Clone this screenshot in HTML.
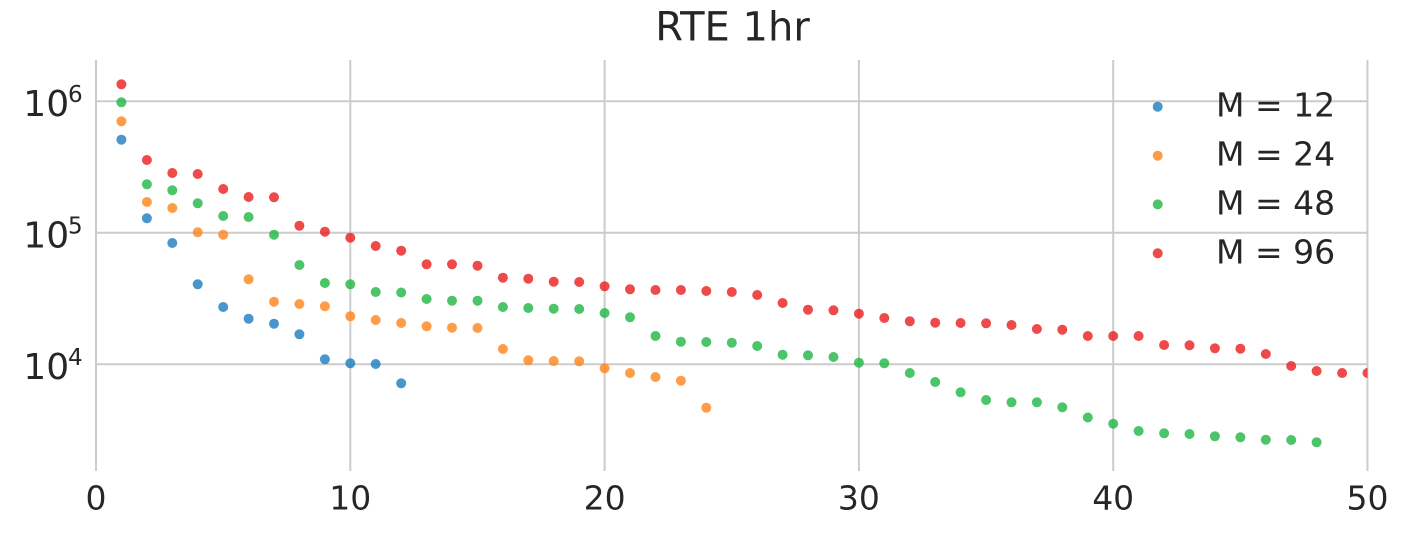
<!DOCTYPE html>
<html><head><meta charset="utf-8"><style>
html,body{margin:0;padding:0;background:#fff;}
svg{display:block;}
text{font-family:"DejaVu Sans","Liberation Sans",sans-serif;fill:#262626;}
</style></head><body>
<svg width="1401" height="541" viewBox="0 0 1401 541" xmlns="http://www.w3.org/2000/svg">
<defs><clipPath id="pc"><rect x="96" y="60" width="1271.5" height="411"/></clipPath></defs>
<text x="732.5" y="40.5" font-size="40" text-anchor="middle">RTE 1hr</text>
<g stroke="#cccccc" stroke-width="2">
<line x1="96" y1="60" x2="96" y2="471"/>
<line x1="350.3" y1="60" x2="350.3" y2="471"/>
<line x1="604.6" y1="60" x2="604.6" y2="471"/>
<line x1="858.9" y1="60" x2="858.9" y2="471"/>
<line x1="1113.2" y1="60" x2="1113.2" y2="471"/>
<line x1="1367.5" y1="60" x2="1367.5" y2="471"/>
<line x1="96" y1="101.3" x2="1367.5" y2="101.3"/>
<line x1="96" y1="232.8" x2="1367.5" y2="232.8"/>
<line x1="96" y1="364.3" x2="1367.5" y2="364.3"/>
</g>
<g font-size="33" text-anchor="middle">
<text x="96" y="509.5">0</text>
<text x="350.3" y="509.5">10</text>
<text x="604.6" y="509.5">20</text>
<text x="858.9" y="509.5">30</text>
<text x="1113.2" y="509.5">40</text>
<text x="1367.5" y="509.5">50</text>
</g>
<g>
<text x="23.3" y="115.8" font-size="36">10</text><text x="68" y="101.8" font-size="23">6</text>
<text x="23.3" y="247.3" font-size="36">10</text><text x="68" y="233.3" font-size="23">5</text>
<text x="23.3" y="378.8" font-size="36">10</text><text x="68" y="364.8" font-size="23">4</text>
</g>
<g clip-path="url(#pc)" fill-opacity="0.8">
<g fill="#1a7cbf">
<circle cx="121.4" cy="139.7" r="5"/><circle cx="146.9" cy="218.3" r="5"/><circle cx="172.3" cy="243" r="5"/><circle cx="197.7" cy="284.3" r="5"/><circle cx="223.2" cy="307" r="5"/><circle cx="248.6" cy="318.7" r="5"/><circle cx="274" cy="323.7" r="5"/><circle cx="299.4" cy="334.3" r="5"/><circle cx="324.9" cy="359.3" r="5"/><circle cx="350.3" cy="363.3" r="5"/><circle cx="375.7" cy="364" r="5"/><circle cx="401.2" cy="383.3" r="5"/>
</g>
<g fill="#fe831a">
<circle cx="121.4" cy="121.3" r="5"/><circle cx="146.9" cy="202" r="5"/><circle cx="172.3" cy="208" r="5"/><circle cx="197.7" cy="232.3" r="5"/><circle cx="223.2" cy="234.7" r="5"/><circle cx="248.6" cy="279.3" r="5"/><circle cx="274" cy="301.7" r="5"/><circle cx="299.4" cy="304" r="5"/><circle cx="324.9" cy="306.3" r="5"/><circle cx="350.3" cy="316.3" r="5"/><circle cx="375.7" cy="320" r="5"/><circle cx="401.2" cy="323" r="5"/>
<circle cx="426.6" cy="326.3" r="5"/><circle cx="452" cy="327.7" r="5"/><circle cx="477.5" cy="328" r="5"/><circle cx="502.9" cy="349" r="5"/><circle cx="528.3" cy="360.3" r="5"/><circle cx="553.7" cy="361" r="5"/><circle cx="579.2" cy="361.3" r="5"/><circle cx="604.6" cy="368.3" r="5"/><circle cx="630" cy="373" r="5"/><circle cx="655.5" cy="377" r="5"/><circle cx="680.9" cy="380.7" r="5"/><circle cx="706.3" cy="407.7" r="5"/>
</g>
<g fill="#1eb545">
<circle cx="121.4" cy="102.3" r="5"/><circle cx="146.9" cy="184.3" r="5"/><circle cx="172.3" cy="190.3" r="5"/><circle cx="197.7" cy="203.3" r="5"/><circle cx="223.2" cy="216" r="5"/><circle cx="248.6" cy="217" r="5"/><circle cx="274" cy="234.7" r="5"/><circle cx="299.4" cy="265" r="5"/><circle cx="324.9" cy="283" r="5"/><circle cx="350.3" cy="284.3" r="5"/><circle cx="375.7" cy="292" r="5"/><circle cx="401.2" cy="292.5" r="5"/>
<circle cx="426.6" cy="299" r="5"/><circle cx="452" cy="300.7" r="5"/><circle cx="477.5" cy="300.7" r="5"/><circle cx="502.9" cy="307" r="5"/><circle cx="528.3" cy="308" r="5"/><circle cx="553.7" cy="308.7" r="5"/><circle cx="579.2" cy="309" r="5"/><circle cx="604.6" cy="313" r="5"/><circle cx="630" cy="317.3" r="5"/><circle cx="655.5" cy="336" r="5"/><circle cx="680.9" cy="341.7" r="5"/><circle cx="706.3" cy="342" r="5"/><circle cx="731.8" cy="342.7" r="5"/><circle cx="757.2" cy="346" r="5"/><circle cx="782.6" cy="354.7" r="5"/>
<circle cx="808" cy="355.3" r="5"/><circle cx="833.5" cy="357" r="5"/><circle cx="858.9" cy="362.7" r="5"/><circle cx="884.3" cy="363.3" r="5"/><circle cx="909.8" cy="373" r="5"/><circle cx="935.2" cy="382" r="5"/><circle cx="960.6" cy="392.3" r="5"/><circle cx="986.1" cy="400" r="5"/><circle cx="1011.5" cy="402.3" r="5"/><circle cx="1036.9" cy="402.3" r="5"/><circle cx="1062.3" cy="407.3" r="5"/><circle cx="1087.8" cy="417.5" r="5"/><circle cx="1113.2" cy="423.7" r="5"/>
<circle cx="1138.6" cy="431" r="5"/><circle cx="1164.1" cy="433.3" r="5"/><circle cx="1189.5" cy="434" r="5"/><circle cx="1214.9" cy="436.3" r="5"/><circle cx="1240.4" cy="437.3" r="5"/><circle cx="1265.8" cy="439.7" r="5"/><circle cx="1291.2" cy="440" r="5"/><circle cx="1316.6" cy="442.3" r="5"/>
</g>
<g fill="#eb1d1d">
<circle cx="121.4" cy="84.3" r="5"/><circle cx="146.9" cy="160" r="5"/><circle cx="172.3" cy="173" r="5"/><circle cx="197.7" cy="174" r="5"/><circle cx="223.2" cy="189" r="5"/><circle cx="248.6" cy="197" r="5"/><circle cx="274" cy="197.3" r="5"/><circle cx="299.4" cy="225.7" r="5"/><circle cx="324.9" cy="231.7" r="5"/><circle cx="350.3" cy="237.7" r="5"/><circle cx="375.7" cy="246" r="5"/><circle cx="401.2" cy="250.7" r="5"/>
<circle cx="426.6" cy="264.3" r="5"/><circle cx="452" cy="264.3" r="5"/><circle cx="477.5" cy="265.7" r="5"/><circle cx="502.9" cy="277.7" r="5"/><circle cx="528.3" cy="278.7" r="5"/><circle cx="553.7" cy="281.7" r="5"/><circle cx="579.2" cy="282" r="5"/><circle cx="604.6" cy="286.3" r="5"/><circle cx="630" cy="289.3" r="5"/><circle cx="655.5" cy="290" r="5"/><circle cx="680.9" cy="290" r="5"/><circle cx="706.3" cy="291" r="5"/><circle cx="731.8" cy="292" r="5"/><circle cx="757.2" cy="295" r="5"/><circle cx="782.6" cy="303" r="5"/>
<circle cx="808" cy="309.7" r="5"/><circle cx="833.5" cy="310.3" r="5"/><circle cx="858.9" cy="313.7" r="5"/><circle cx="884.3" cy="318" r="5"/><circle cx="909.8" cy="321.3" r="5"/><circle cx="935.2" cy="322.7" r="5"/><circle cx="960.6" cy="323" r="5"/><circle cx="986.1" cy="323.3" r="5"/><circle cx="1011.5" cy="325" r="5"/><circle cx="1036.9" cy="329" r="5"/><circle cx="1062.3" cy="329.7" r="5"/><circle cx="1087.8" cy="336" r="5"/><circle cx="1113.2" cy="336" r="5"/>
<circle cx="1138.6" cy="336" r="5"/><circle cx="1164.1" cy="345" r="5"/><circle cx="1189.5" cy="345.3" r="5"/><circle cx="1214.9" cy="348.3" r="5"/><circle cx="1240.4" cy="348.7" r="5"/><circle cx="1265.8" cy="354" r="5"/><circle cx="1291.2" cy="366" r="5"/><circle cx="1316.6" cy="371" r="5"/><circle cx="1342.1" cy="373" r="5"/><circle cx="1367.5" cy="373" r="5"/>
</g>
</g>
<g fill-opacity="0.8">
<circle cx="1157.7" cy="106.7" r="5" fill="#1a7cbf"/>
<circle cx="1157.7" cy="155.7" r="5" fill="#fe831a"/>
<circle cx="1157.7" cy="204.4" r="5" fill="#1eb545"/>
<circle cx="1157.7" cy="253.3" r="5" fill="#eb1d1d"/>
</g>
<g font-size="33">
<text x="1216" y="116.7">M = 12</text>
<text x="1216" y="165.6">M = 24</text>
<text x="1216" y="214.4">M = 48</text>
<text x="1216" y="263.3">M = 96</text>
</g>
</svg>
</body></html>
